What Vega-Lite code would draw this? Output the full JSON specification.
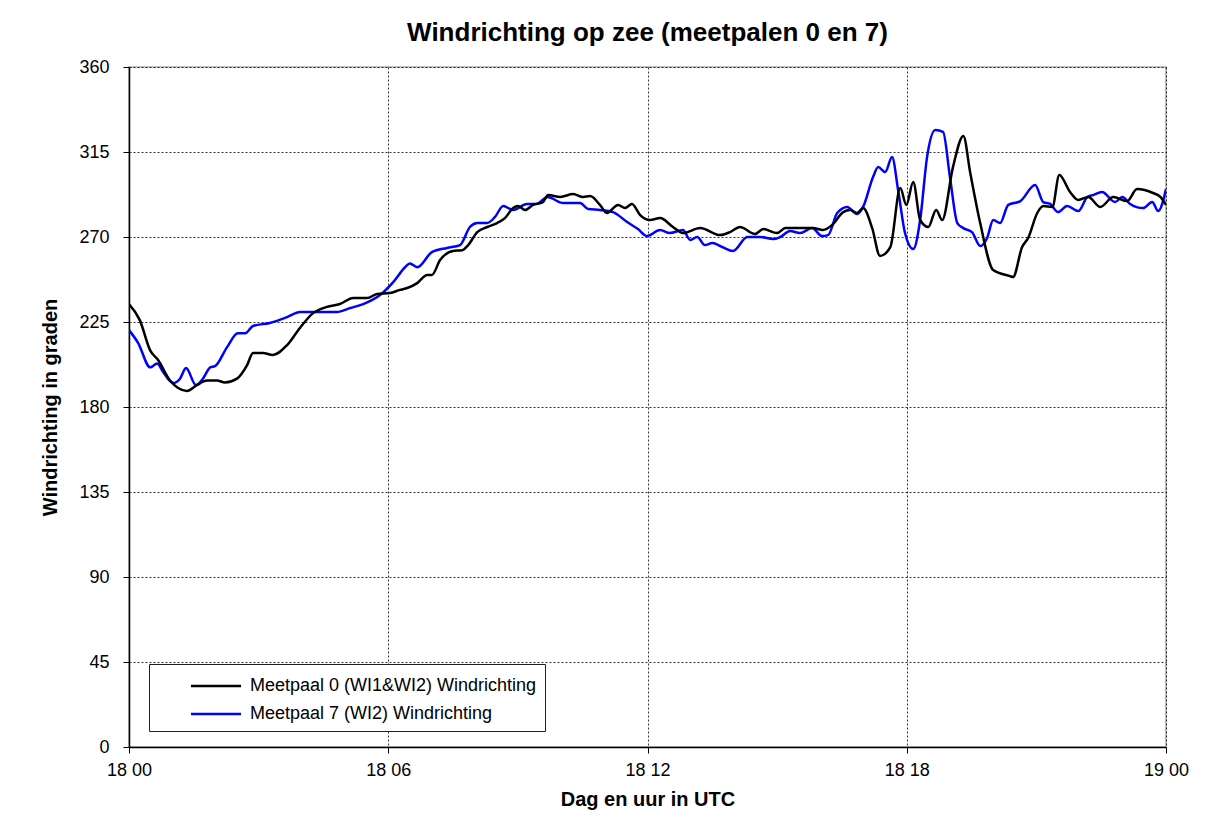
{
  "$schema": "https://vega.github.io/schema/vega-lite/v6.json",
  "width": 1037,
  "height": 680,
  "autosize": {"type": "none"},
  "padding": {"left": 129, "top": 67, "right": 41, "bottom": 74},
  "background": "#ffffff",
  "title": {"text": "Windrichting op zee (meetpalen 0 en 7)", "font": "Liberation Sans", "fontSize": 26, "fontWeight": "bold", "color": "#000000", "offset": 12},
  "datasets": {
    "m0": [
      {"uur":0,"richting":234.5},{"uur":0.25,"richting":226},{"uur":0.49,"richting":210},{"uur":0.67,"richting":205},{"uur":0.95,"richting":194},{"uur":1.34,"richting":188.5},{"uur":1.57,"richting":191.6},{"uur":1.81,"richting":194},{"uur":2.04,"richting":194},{"uur":2.22,"richting":193},{"uur":2.5,"richting":195},{"uur":2.73,"richting":202},{"uur":2.87,"richting":208.6},{"uur":3.1,"richting":208.6},{"uur":3.33,"richting":207.5},{"uur":3.66,"richting":212.8},{"uur":3.96,"richting":222},{"uur":4.26,"richting":229.7},{"uur":4.58,"richting":233},{"uur":4.88,"richting":234.5},{"uur":5.19,"richting":237.7},{"uur":5.51,"richting":237.7},{"uur":5.74,"richting":239.8},{"uur":6.04,"richting":240.3},{"uur":6.27,"richting":242},{"uur":6.44,"richting":243},{"uur":6.67,"richting":245.6},{"uur":6.9,"richting":249.9},{"uur":7.01,"richting":249.9},{"uur":7.2,"richting":257.8},{"uur":7.5,"richting":262.6},{"uur":7.71,"richting":263},{"uur":7.85,"richting":265.7},{"uur":8.06,"richting":272.6},{"uur":8.29,"richting":275.3},{"uur":8.52,"richting":277.4},{"uur":8.7,"richting":280},{"uur":8.89,"richting":285.3},{"uur":9.0,"richting":286.4},{"uur":9.17,"richting":284.3},{"uur":9.35,"richting":287},{"uur":9.58,"richting":288.5},{"uur":9.7,"richting":292.2},{"uur":9.98,"richting":291.2},{"uur":10.28,"richting":292.7},{"uur":10.51,"richting":291.2},{"uur":10.67,"richting":291.7},{"uur":10.9,"richting":287},{"uur":11.06,"richting":282.7},{"uur":11.32,"richting":287},{"uur":11.48,"richting":285.3},{"uur":11.64,"richting":287.5},{"uur":11.83,"richting":281.6},{"uur":12.06,"richting":279},{"uur":12.29,"richting":280},{"uur":12.59,"richting":275.3},{"uur":12.82,"richting":272.1},{"uur":13.22,"richting":274.7},{"uur":13.68,"richting":271},{"uur":13.91,"richting":272.6},{"uur":14.14,"richting":275.3},{"uur":14.49,"richting":271.6},{"uur":14.68,"richting":274.2},{"uur":15.0,"richting":272.1},{"uur":15.19,"richting":274.7},{"uur":15.53,"richting":274.7},{"uur":15.83,"richting":274.7},{"uur":16.06,"richting":273.7},{"uur":16.27,"richting":276.3},{"uur":16.53,"richting":283.2},{"uur":16.69,"richting":284.3},{"uur":16.85,"richting":282.7},{"uur":16.99,"richting":285.3},{"uur":17.2,"richting":274.7},{"uur":17.38,"richting":260},{"uur":17.62,"richting":264.7},{"uur":17.85,"richting":295.9},{"uur":17.99,"richting":287},{"uur":18.15,"richting":299.1},{"uur":18.31,"richting":279},{"uur":18.5,"richting":275.3},{"uur":18.68,"richting":284.3},{"uur":18.82,"richting":279},{"uur":19.07,"richting":307},{"uur":19.31,"richting":323.5},{"uur":19.47,"richting":303.9},{"uur":19.7,"richting":277.4},{"uur":20.0,"richting":252.5},{"uur":20.39,"richting":249.3},{"uur":20.46,"richting":248.8},{"uur":20.67,"richting":264.7},{"uur":20.81,"richting":269.5},{"uur":21.02,"richting":282.7},{"uur":21.16,"richting":286.4},{"uur":21.37,"richting":285.9},{"uur":21.53,"richting":302.8},{"uur":21.78,"richting":293.8},{"uur":21.97,"richting":289.6},{"uur":22.2,"richting":291.2},{"uur":22.48,"richting":285.9},{"uur":22.78,"richting":291.2},{"uur":23.1,"richting":289},{"uur":23.33,"richting":295.4},{"uur":23.7,"richting":293.3},{"uur":23.87,"richting":291.2},{"uur":24.0,"richting":287}
    ],
    "m7": [
      {"uur":0,"richting":220.7},{"uur":0.21,"richting":214},{"uur":0.49,"richting":201},{"uur":0.65,"richting":203},{"uur":0.79,"richting":198.5},{"uur":1.02,"richting":192.7},{"uur":1.18,"richting":195},{"uur":1.32,"richting":200.6},{"uur":1.55,"richting":191.6},{"uur":1.71,"richting":195},{"uur":1.88,"richting":201},{"uur":1.99,"richting":201.6},{"uur":2.27,"richting":211.7},{"uur":2.52,"richting":219},{"uur":2.69,"richting":219},{"uur":2.87,"richting":222.9},{"uur":3.26,"richting":224.5},{"uur":3.66,"richting":227.6},{"uur":3.96,"richting":230.3},{"uur":4.42,"richting":230.3},{"uur":4.81,"richting":230.3},{"uur":5.12,"richting":232.4},{"uur":5.42,"richting":234.5},{"uur":5.81,"richting":239.3},{"uur":6.11,"richting":246},{"uur":6.39,"richting":254},{"uur":6.5,"richting":256},{"uur":6.67,"richting":254},{"uur":7.01,"richting":262},{"uur":7.36,"richting":264.2},{"uur":7.66,"richting":265.7},{"uur":7.89,"richting":275.3},{"uur":8.06,"richting":277.4},{"uur":8.29,"richting":277.4},{"uur":8.47,"richting":280.6},{"uur":8.66,"richting":286.4},{"uur":8.89,"richting":284.3},{"uur":9.21,"richting":287.5},{"uur":9.44,"richting":287.5},{"uur":9.68,"richting":291.2},{"uur":10.05,"richting":288},{"uur":10.44,"richting":288},{"uur":10.63,"richting":284.8},{"uur":10.9,"richting":284.3},{"uur":11.2,"richting":283.2},{"uur":11.53,"richting":277.9},{"uur":11.78,"richting":274.2},{"uur":11.99,"richting":270.5},{"uur":12.29,"richting":273.7},{"uur":12.52,"richting":272.1},{"uur":12.82,"richting":273.7},{"uur":12.99,"richting":268.4},{"uur":13.15,"richting":270},{"uur":13.33,"richting":265.7},{"uur":13.5,"richting":266.8},{"uur":13.73,"richting":264.7},{"uur":13.98,"richting":262.6},{"uur":14.31,"richting":270},{"uur":14.61,"richting":270},{"uur":14.91,"richting":268.9},{"uur":15.07,"richting":270},{"uur":15.3,"richting":273.2},{"uur":15.53,"richting":272.1},{"uur":15.81,"richting":274.7},{"uur":16.04,"richting":270.5},{"uur":16.18,"richting":271},{"uur":16.39,"richting":282.7},{"uur":16.62,"richting":285.9},{"uur":16.85,"richting":282.2},{"uur":16.99,"richting":285.9},{"uur":17.22,"richting":301.7},{"uur":17.34,"richting":307},{"uur":17.5,"richting":304.4},{"uur":17.66,"richting":312.3},{"uur":17.8,"richting":294.9},{"uur":17.96,"richting":272.1},{"uur":18.15,"richting":263.6},{"uur":18.31,"richting":279},{"uur":18.47,"richting":312.3},{"uur":18.66,"richting":326.6},{"uur":18.84,"richting":325.6},{"uur":19.0,"richting":301.7},{"uur":19.17,"richting":277.4},{"uur":19.31,"richting":274.7},{"uur":19.51,"richting":272.6},{"uur":19.7,"richting":265.2},{"uur":19.86,"richting":269.5},{"uur":20.0,"richting":279},{"uur":20.16,"richting":277.4},{"uur":20.35,"richting":287},{"uur":20.63,"richting":289},{"uur":20.97,"richting":297.5},{"uur":21.16,"richting":288.5},{"uur":21.32,"richting":287.5},{"uur":21.5,"richting":283.2},{"uur":21.71,"richting":286.4},{"uur":21.97,"richting":283.7},{"uur":22.18,"richting":291.2},{"uur":22.31,"richting":292.2},{"uur":22.52,"richting":293.8},{"uur":22.82,"richting":288.5},{"uur":22.99,"richting":291.2},{"uur":23.17,"richting":287.5},{"uur":23.47,"richting":285.3},{"uur":23.68,"richting":288.5},{"uur":23.82,"richting":283.7},{"uur":24.0,"richting":295.4}
    ]
  },
  "data": {"name": "m0"},
  "transform": [
    {"calculate": "'Meetpaal 0 (WI1&WI2) Windrichting'", "as": "reeks"}
  ],
  "layer": [
    {
      "data": {"name": "m7"},
      "transform": [{"calculate": "'Meetpaal 7 (WI2) Windrichting'", "as": "reeks"}],
      "mark": {"type": "line", "strokeWidth": 2.5, "interpolate": "monotone", "clip": true},
      "encoding": {
        "x": {"field": "uur", "type": "quantitative"},
        "y": {"field": "richting", "type": "quantitative"},
        "color": {"field": "reeks", "type": "nominal"}
      }
    },
    {
      "mark": {"type": "line", "strokeWidth": 2.5, "interpolate": "monotone", "clip": true},
      "encoding": {
        "x": {
          "field": "uur", "type": "quantitative",
          "scale": {"domain": [0, 24], "nice": false, "zero": false},
          "axis": {
            "values": [0, 6, 12, 18, 24],
            "labelExpr": "datum.value < 24 ? '18 ' + (datum.value < 10 ? '0' : '') + datum.value : '19 00'",
            "title": "Dag en uur in UTC",
            "labelPadding": 8,
            "titlePadding": 10
          }
        },
        "y": {
          "field": "richting", "type": "quantitative",
          "scale": {"domain": [0, 360], "nice": false},
          "axis": {
            "values": [0, 45, 90, 135, 180, 225, 270, 315, 360],
            "title": "Windrichting in graden",
            "labelPadding": 14,
            "titlePadding": 18
          }
        },
        "color": {
          "field": "reeks", "type": "nominal",
          "scale": {"domain": ["Meetpaal 0 (WI1&WI2) Windrichting", "Meetpaal 7 (WI2) Windrichting"], "range": ["#000000", "#0000ff"]},
          "legend": {
            "title": null,
            "orient": "none",
            "legendX": 20,
            "legendY": 597,
            "symbolType": "M-2,0H2",
            "symbolSize": 625,
            "symbolStrokeWidth": 2.5,
            "symbolOffset": 45,
            "labelFont": "Liberation Sans",
            "labelFontSize": 18,
            "labelColor": "#000000",
            "labelOffset": 20,
            "labelLimit": 400,
            "padding": 8,
            "rowPadding": 5,
            "strokeColor": "#222222",
            "fillColor": "#ffffff"
          }
        }
      }
    }
  ],
  "config": {
    "view": {"stroke": "#c0c0c0", "strokeWidth": 2},
    "axis": {
      "labelFont": "Liberation Sans",
      "labelFontSize": 18,
      "labelColor": "#000000",
      "labelFlush": false,
      "titleFont": "Liberation Sans",
      "titleFontSize": 20,
      "titleFontWeight": "bold",
      "titleColor": "#000000",
      "domainColor": "#000000",
      "domainWidth": 1.5,
      "tickColor": "#000000",
      "tickSize": 6,
      "grid": true,
      "gridColor": "#000000",
      "gridWidth": 1,
      "gridDash": [2, 2],
      "gridOpacity": 0.8
    }
  }
}
